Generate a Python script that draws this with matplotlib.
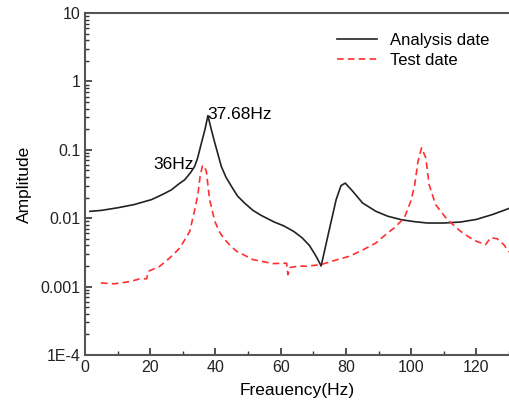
import matplotlib
matplotlib.use("Agg")
import matplotlib.pyplot as plt
from matplotlib.ticker import FixedLocator, FixedFormatter, MultipleLocator, LogLocator

plt.rcParams['font.family'] = ['Liberation Sans', 'DejaVu Sans']

# analysis curve
ana_f = [1.5, 5, 10, 15, 20.4, 24, 26.5, 28.5, 30.6, 32.3, 33.6, 34.5, 35.7, 36.8, 37.68,
         38.7, 39.8, 40.8, 41.8, 43.2, 44.9, 46.8, 48.9, 51.5, 54, 58, 61, 64, 66.5, 68.8,
         70.9, 72.4, 74.9, 77, 78.5, 79.8, 82.1, 85.1, 89.2, 92.8, 97, 101, 105, 110,
         115.2, 120, 124.9, 128, 130]
ana_a = [0.0126, 0.013, 0.0142, 0.0158, 0.0187, 0.0225, 0.026, 0.031, 0.0366, 0.046, 0.057,
         0.075, 0.126, 0.2, 0.316, 0.2, 0.126, 0.085, 0.057, 0.04, 0.0292, 0.021, 0.0167,
         0.013, 0.011, 0.0088, 0.0077, 0.0064, 0.0052, 0.0040, 0.00275, 0.002, 0.0068,
         0.0187, 0.030, 0.0326, 0.0247, 0.0167, 0.0126, 0.0107, 0.0095, 0.0089, 0.0085,
         0.0085, 0.0088, 0.0096, 0.0113, 0.0128, 0.0139]

# test curve
test_f = [4.9, 7, 9.2, 12, 14.3, 16.8, 18.9, 19.4, 22.9, 26, 29.1, 32.1, 33.6, 34.6, 35.3,
          36.0, 36.5, 37.2, 38.2, 39.8, 41.3, 42.8, 44.3, 46.4, 51.5, 57.6, 61.8, 62.2,
          62.8, 65.7, 67.8, 72.4, 77, 81, 85, 89.2, 92.8, 94.8, 97.9, 99.9, 101.1, 102.1,
          103.2, 104.5, 105.5, 107.5, 111.1, 115.2, 118, 120, 122.8, 124.4, 126.4, 128.4,
          130]
test_a = [0.00113, 0.00111, 0.0011, 0.00115, 0.0012, 0.0013, 0.0013, 0.00167, 0.00198,
          0.00263, 0.00368, 0.0064, 0.013, 0.022, 0.041, 0.058, 0.0588, 0.0485, 0.0187,
          0.009, 0.0062, 0.0049, 0.0041, 0.0033, 0.00248, 0.00217, 0.0022, 0.0015, 0.0019,
          0.002, 0.00198, 0.0021, 0.00245, 0.00277, 0.0034, 0.00435, 0.0061, 0.0072,
          0.0101, 0.0177, 0.031, 0.068, 0.107, 0.076, 0.031, 0.0158, 0.0095, 0.0064,
          0.0052, 0.0046, 0.0041, 0.0052, 0.005, 0.0041, 0.0032]

ytick_vals = [1e-4, 1e-3, 1e-2, 1e-1, 1, 10]
ytick_labels = ["1E-4", "0.001", "0.01", "0.1", "1", "10"]

fig = plt.figure(figsize=(5.09, 4.08), dpi=100)
ax = fig.add_axes([0.167, 0.130, 0.833, 0.838])

ax.plot(ana_f, ana_a, color="#222222", lw=1.2, label="Analysis date")
ax.plot(test_f, test_a, color="#ff3030", lw=1.2, ls=(0, (4, 2.5)), label="Test date")

ax.set_yscale("log")
ax.set_xlim(0, 130)
ax.set_ylim(1e-4, 10)

ax.yaxis.set_major_locator(FixedLocator(ytick_vals))
ax.yaxis.set_major_formatter(FixedFormatter(ytick_labels))
ax.yaxis.set_minor_locator(LogLocator(base=10, subs=range(2, 10), numticks=20))
ax.xaxis.set_major_locator(MultipleLocator(20))
ax.xaxis.set_minor_locator(MultipleLocator(10))

ax.tick_params(which="both", direction="in", top=False, right=False, labelsize=11.5,
               colors="#333333", labelcolor="#222222")
ax.tick_params(which="major", length=5, width=1.2)
ax.tick_params(which="minor", length=3, width=1)

for s in ["left", "bottom", "top"]:
    ax.spines[s].set_linewidth(1.5)
    ax.spines[s].set_color("#555555")
ax.spines["right"].set_visible(False)

ax.set_xlabel("Freauency(Hz)", fontsize=12.5, labelpad=6)
ax.set_ylabel("Amplitude", fontsize=12.5, labelpad=6)

ax.text(37.6, 0.33, "37.68Hz", fontsize=12.5, va="center", ha="left")
ax.text(21, 0.06, "36Hz", fontsize=12.5, va="center", ha="left")

ax.legend(loc="upper right", bbox_to_anchor=(0.99, 0.985), frameon=False, fontsize=12,
          handlelength=2.4, labelspacing=0.3)

fig.savefig("out.png", dpi=100)
